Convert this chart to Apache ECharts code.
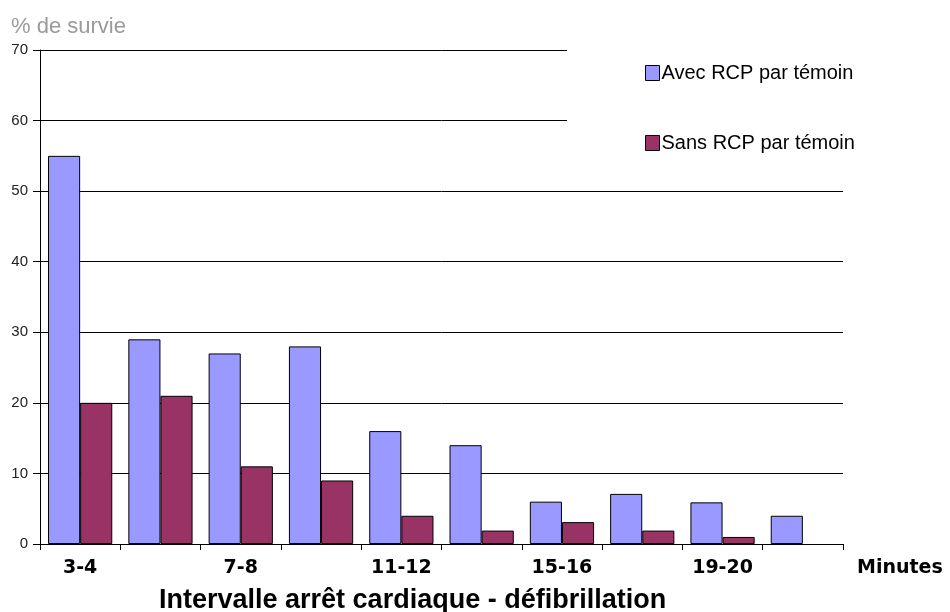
<!DOCTYPE html>
<html><head><meta charset="utf-8">
<script src="https://cdn.jsdelivr.net/npm/echarts@6/dist/echarts.min.js"></script>
<style>html,body{margin:0;padding:0;background:#fff}#c{width:950px;height:612px}</style>
</head><body><div id="c"></div>
<script>
var categories = ['3-4','5-6','7-8','9-10','11-12','13-14','15-16','17-18','19-20','21-22'];
var avecRCP = [55, 29, 27, 28, 16, 14, 6, 7.1, 5.9, 4];
var sansRCP = [20, 21, 11, 9, 4, 1.9, 3.1, 1.9, 1, null];
var yTicks = [0, 10, 20, 30, 40, 50, 60, 70];

var chart = echarts.init(document.getElementById('c'), null, {renderer: 'canvas'});
chart.setOption({
  animation: false,
  backgroundColor: '#fff',
  title: [
    {text: '% de survie', left: 6, top: 11, textStyle: {fontFamily: 'Liberation Sans', fontSize: 22, fontWeight: 'normal', color: '#9a9a9a'}},
    {text: 'Intervalle arrêt cardiaque - défibrillation', left: 154, top: 582, textStyle: {fontFamily: 'Liberation Sans', fontSize: 27, fontWeight: 'bold', color: '#000'}}
  ],
  legend: {
    orient: 'vertical', left: 567, top: 49,
    padding: [14, 40, 12, 78],
    itemGap: 50, itemWidth: 14, itemHeight: 15,
    backgroundColor: '#fff',
    icon: 'rect',
    itemStyle: {borderWidth: 1, borderColor: '#000'},
    textStyle: {fontFamily: 'Liberation Sans', fontSize: 20, color: '#000', padding: [0,0,0,-3]},
    data: ['Avec RCP par témoin', 'Sans RCP par témoin']
  },
  grid: {left: 40, right: 107, top: 50, bottom: 68, containLabel: false},
  xAxis: {
    type: 'category', data: categories,
    axisLine: {lineStyle: {color: '#000', width: 1}},
    axisTick: {show: true, interval: 0, length: 6, lineStyle: {color: '#000'}},
    axisLabel: {interval: 1, margin: 15, fontFamily: 'DejaVu Sans', fontWeight: 'bold', fontSize: 19, color: '#000'},
    name: 'Minutes', nameLocation: 'end', nameGap: 14,
    nameTextStyle: {fontFamily: 'DejaVu Sans', fontWeight: 'bold', fontSize: 19, color: '#000', verticalAlign: 'top', align: 'left', padding: [15,0,0,0]}
  },
  yAxis: {
    type: 'value', min: 0, max: 70, interval: 10,
    axisLine: {show: true, lineStyle: {color: '#000'}},
    axisTick: {show: true, length: 7, lineStyle: {color: '#000'}},
    axisLabel: {margin: 12, fontFamily: 'Liberation Sans', fontSize: 15, color: '#222',
      formatter: function(v){ return yTicks.indexOf(v) >= 0 ? String(v) : ''; }},
    splitLine: {show: true, lineStyle: {color: '#000', width: 1}}
  },
  series: [
    {name: 'Avec RCP par témoin', type: 'bar', data: avecRCP, barGap: '0%', barCategoryGap: '20%',
     itemStyle: {color: '#9999FF', borderColor: '#000', borderWidth: 1}},
    {name: 'Sans RCP par témoin', type: 'bar', data: sansRCP, barGap: '0%', barCategoryGap: '20%',
     itemStyle: {color: '#993366', borderColor: '#000', borderWidth: 1}}
  ]
});
</script></body></html>
